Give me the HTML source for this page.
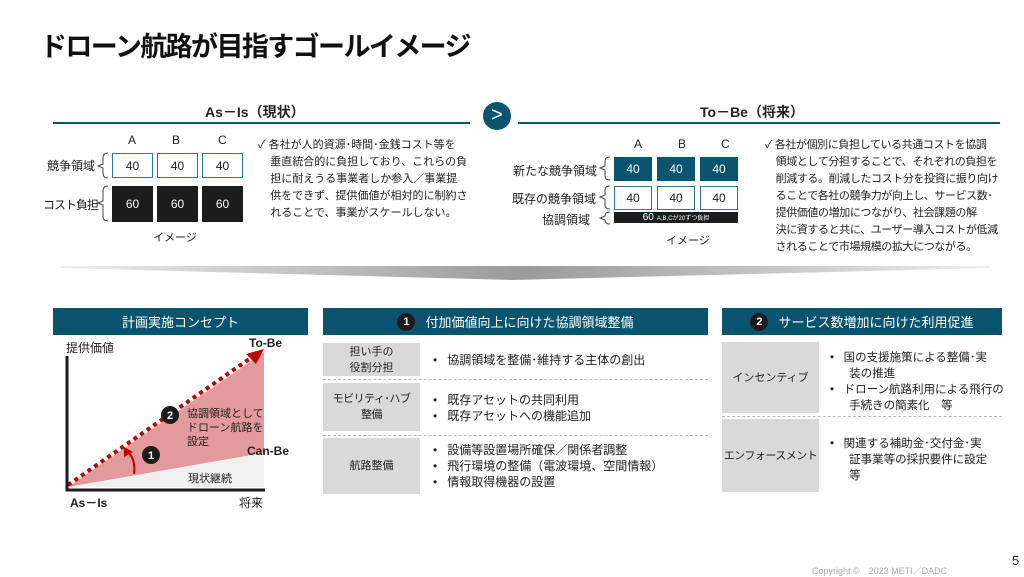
<!DOCTYPE html>
<html><head><meta charset="utf-8"><style>
*{margin:0;padding:0;box-sizing:border-box}
body{width:1024px;height:572px;background:#fff;position:relative;overflow:hidden;font-family:"Liberation Sans","Noto Sans CJK JP",sans-serif;color:#222}
.a{position:absolute;white-space:nowrap}
.box{position:absolute;display:flex;align-items:center;justify-content:center;font-size:12px}
.w{border:1.5px solid #2f7690;background:#fff;color:#222}
.k{background:#1c1c1c;color:#fff}
.t{background:#0b5470;color:#fff}
.hd{position:absolute;background:#0b5470;color:#fff;font-size:13px;display:flex;align-items:center;justify-content:center;height:27px;top:308px}
.num{display:inline-flex;width:18px;height:18px;border-radius:50%;background:#1c1c1c;color:#fff;font-size:11px;font-weight:bold;align-items:center;justify-content:center;margin-right:10px}
.lab{position:absolute;background:#d9d9d9;font-size:11px;display:flex;align-items:center;justify-content:center;text-align:center;line-height:16px;white-space:nowrap}
.txt{position:absolute;font-size:12px;line-height:16px;white-space:nowrap}
.dash{position:absolute;border-top:1.5px dashed #bbb;height:0}
.p{font-size:11px;line-height:17px}
</style></head><body>
<div class="a" style="left:40px;top:25px;font-size:27px;font-weight:bold;letter-spacing:-1.6px;color:#111">ドローン航路が目指すゴールイメージ</div>

<div class="a" style="left:205px;top:102px;font-size:14px;font-weight:bold">As－Is（現状）</div>
<div class="a" style="left:53px;top:122px;width:417px;height:2px;background:#0b5470"></div>
<div class="a" style="left:483px;top:102px;width:28px;height:28px;border-radius:50%;background:#0b5470;color:#fff;font-size:20px;text-align:center;line-height:26px">&gt;</div>
<div class="a" style="left:700px;top:102px;font-size:14px;font-weight:bold">To－Be（将来）</div>
<div class="a" style="left:518px;top:122px;width:482px;height:2px;background:#0b5470"></div>

<!-- As-Is grid -->
<div class="a" style="left:128px;top:133px;font-size:12px">A</div>
<div class="a" style="left:172px;top:133px;font-size:12px">B</div>
<div class="a" style="left:218px;top:133px;font-size:12px">C</div>
<div class="a" style="left:47px;top:157px;font-size:12px">競争領域</div>
<div class="a" style="left:43px;top:196px;font-size:12px;letter-spacing:-1px">コスト負担</div>
<svg class="a" style="left:96px;top:150px" width="16" height="80"><path d="M12 3 Q7 3 7 8 V14 L2 16 L7 18 V23 Q7 28 12 28" fill="none" stroke="#444" stroke-width="1"/><path d="M12 36 Q7 36 7 41 V51 L2 53 L7 55 V66 Q7 71 12 71" fill="none" stroke="#444" stroke-width="1"/></svg>
<div class="box w" style="left:112px;top:153px;width:41px;height:25px">40</div>
<div class="box w" style="left:157px;top:153px;width:41px;height:25px">40</div>
<div class="box w" style="left:202px;top:153px;width:41px;height:25px">40</div>
<div class="box k" style="left:112px;top:186px;width:41px;height:36px">60</div>
<div class="box k" style="left:157px;top:186px;width:41px;height:36px">60</div>
<div class="box k" style="left:202px;top:186px;width:41px;height:36px">60</div>
<div class="a" style="left:153px;top:229px;font-size:11px">イメージ</div>
<div class="a p" style="left:258px;top:137px">✓ 各社が人的資源･時間･金銭コスト等を<br>&nbsp;&nbsp;&nbsp;&nbsp;垂直統合的に負担しており、これらの負<br>&nbsp;&nbsp;&nbsp;&nbsp;担に耐えうる事業者しか参入／事業提<br>&nbsp;&nbsp;&nbsp;&nbsp;供をできず、提供価値が相対的に制約さ<br>&nbsp;&nbsp;&nbsp;&nbsp;れることで、事業がスケールしない。</div>

<!-- To-Be grid -->
<div class="a" style="left:634px;top:137px;font-size:12px">A</div>
<div class="a" style="left:678px;top:137px;font-size:12px">B</div>
<div class="a" style="left:721px;top:137px;font-size:12px">C</div>
<div class="a" style="left:513px;top:162px;font-size:12px">新たな競争領域</div>
<div class="a" style="left:512px;top:190px;font-size:12px">既存の競争領域</div>
<div class="a" style="left:542px;top:211px;font-size:12px">協調領域</div>
<svg class="a" style="left:598px;top:154px" width="16" height="72"><path d="M12 3 Q7 3 7 7 V12 L2 14 L7 16 V22 Q7 26 12 26" fill="none" stroke="#444"/><path d="M12 32 Q7 32 7 36 V41 L2 43 L7 45 V51 Q7 55 12 55" fill="none" stroke="#444"/><path d="M12 58 Q7 58 7 62 L2 64 L7 66 Q7 70 12 70" fill="none" stroke="#444"/></svg>
<div class="box t" style="left:614px;top:157px;width:38px;height:24px">40</div>
<div class="box t" style="left:657px;top:157px;width:38px;height:24px">40</div>
<div class="box t" style="left:700px;top:157px;width:38px;height:24px">40</div>
<div class="box w" style="left:614px;top:186px;width:38px;height:24px">40</div>
<div class="box w" style="left:657px;top:186px;width:38px;height:24px">40</div>
<div class="box w" style="left:700px;top:186px;width:38px;height:24px">40</div>
<div class="box k" style="left:614px;top:212px;width:124px;height:11px;font-size:10px">60 <span style="font-size:6px;margin-left:3px">A,B,Cが20ずつ負担</span></div>
<div class="a" style="left:666px;top:232px;font-size:11px">イメージ</div>
<div class="a p" style="left:765px;top:137px;letter-spacing:-0.4px">✓ 各社が個別に負担している共通コストを協調<br>&nbsp;&nbsp;&nbsp;&nbsp;領域として分担することで、それぞれの負担を<br>&nbsp;&nbsp;&nbsp;&nbsp;削減する。削減したコスト分を投資に振り向け<br>&nbsp;&nbsp;&nbsp;&nbsp;ることで各社の競争力が向上し、サービス数･<br>&nbsp;&nbsp;&nbsp;&nbsp;提供価値の増加につながり、社会課題の解<br>&nbsp;&nbsp;&nbsp;&nbsp;決に資すると共に、ユーザー導入コストが低減<br>&nbsp;&nbsp;&nbsp;&nbsp;されることで市場規模の拡大につながる。</div>

<svg class="a" style="left:0;top:260px" width="1024" height="25"><defs><linearGradient id="g" x1="0" x2="1"><stop offset="0" stop-color="#eee"/><stop offset="0.5" stop-color="#9a9a9a"/><stop offset="1" stop-color="#eee"/></linearGradient></defs><polygon points="60,6 990,6 990,8 512,20 60,8" fill="url(#g)"/></svg>

<!-- Concept -->
<div class="hd" style="left:53px;width:255px">計画実施コンセプト</div>
<svg class="a" style="left:0;top:0" width="320" height="572">
<polygon points="68,487 264,352 264,453" fill="#e39a9c"/>
<polygon points="68,487 264,453 264,487" fill="#f0f0f0"/>
<line x1="68" y1="485" x2="255" y2="355" stroke="#c00000" stroke-width="4" stroke-dasharray="4,4"/>
<polygon points="264,349 246,354 256,364" fill="#c00000"/>
<path d="M67 356 V490 H265" fill="none" stroke="#1c1c1c" stroke-width="3"/>
<path d="M134 474 Q136 460 128 452" fill="none" stroke="#c00000" stroke-width="2"/>
<polygon points="124,447 124,457 133,452" fill="#c00000"/>
<circle cx="170" cy="415" r="9" fill="#1c1c1c"/><text x="170" y="419" font-size="11" font-weight="bold" fill="#fff" text-anchor="middle" font-family="Liberation Sans">2</text>
<circle cx="151" cy="455" r="9" fill="#1c1c1c"/><text x="151" y="459" font-size="11" font-weight="bold" fill="#fff" text-anchor="middle" font-family="Liberation Sans">1</text>
</svg>
<div class="a" style="left:66px;top:339px;font-size:12px">提供価値</div>
<div class="a" style="left:249px;top:336px;font-size:12px;font-weight:bold">To-Be</div>
<div class="a" style="left:247px;top:444px;font-size:12px;font-weight:bold">Can-Be</div>
<div class="a" style="left:70px;top:494px;font-size:12px;font-weight:bold">As－Is</div>
<div class="a" style="left:239px;top:494px;font-size:12px">将来</div>
<div class="a" style="left:187px;top:407px;font-size:11px;line-height:14px">協調領域として<br>ドローン航路を<br>設定</div>
<div class="a" style="left:188px;top:470px;font-size:11px">現状継続</div>

<!-- Middle -->
<div class="hd" style="left:323px;width:385px"><span class="num">1</span>付加価値向上に向けた協調領域整備</div>
<div class="lab" style="left:323px;top:343px;width:97px;height:33px">担い手の<br>役割分担</div>
<div class="dash" style="left:323px;top:379px;width:385px"></div>
<div class="lab" style="left:323px;top:383px;width:97px;height:48px;letter-spacing:-0.5px">モビリティ･ハブ<br>整備</div>
<div class="dash" style="left:323px;top:435px;width:385px"></div>
<div class="lab" style="left:323px;top:438px;width:97px;height:56px">航路整備</div>
<div class="txt" style="left:433px;top:352px">•&nbsp;&nbsp;&nbsp;協調領域を整備･維持する主体の創出</div>
<div class="txt" style="left:433px;top:392px">•&nbsp;&nbsp;&nbsp;既存アセットの共同利用<br>•&nbsp;&nbsp;&nbsp;既存アセットへの機能追加</div>
<div class="txt" style="left:433px;top:442px">•&nbsp;&nbsp;&nbsp;設備等設置場所確保／関係者調整<br>•&nbsp;&nbsp;&nbsp;飛行環境の整備（電波環境、空間情報）<br>•&nbsp;&nbsp;&nbsp;情報取得機器の設置</div>

<!-- Right -->
<div class="hd" style="left:722px;width:280px"><span class="num">2</span>サービス数増加に向けた利用促進</div>
<div class="lab" style="left:722px;top:342px;width:97px;height:71px">インセンティブ</div>
<div class="dash" style="left:722px;top:416px;width:280px"></div>
<div class="lab" style="left:722px;top:419px;width:97px;height:73px;letter-spacing:-0.5px">エンフォースメント</div>
<div class="txt" style="left:830px;top:350px;font-size:11.5px">•&nbsp;&nbsp;&nbsp;国の支援施策による整備･実<br>&nbsp;&nbsp;&nbsp;&nbsp;&nbsp;&nbsp;装の推進<br>•&nbsp;&nbsp;&nbsp;ドローン航路利用による飛行の<br>&nbsp;&nbsp;&nbsp;&nbsp;&nbsp;&nbsp;手続きの簡素化　等</div>
<div class="txt" style="left:830px;top:436px;font-size:11.5px">•&nbsp;&nbsp;&nbsp;関連する補助金･交付金･実<br>&nbsp;&nbsp;&nbsp;&nbsp;&nbsp;&nbsp;証事業等の採択要件に設定<br>&nbsp;&nbsp;&nbsp;&nbsp;&nbsp;&nbsp;等</div>

<div class="a" style="left:1012px;top:553px;font-size:13px">5</div>
<div class="a" style="left:812px;top:564px;font-size:9px;color:#aaa">Copyright ©　2023 METI／DADC</div>
</body></html>
